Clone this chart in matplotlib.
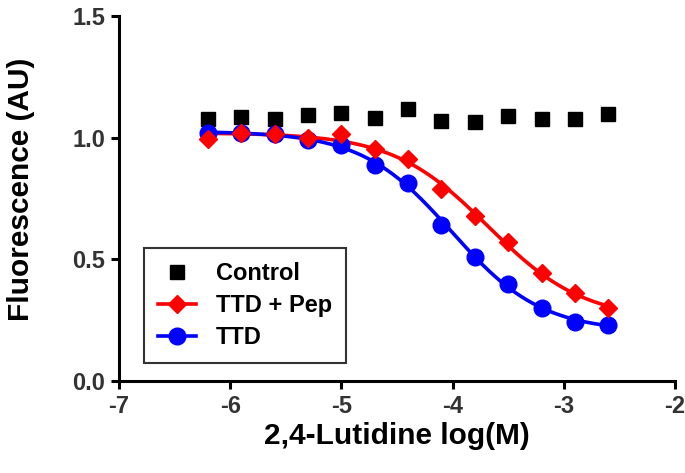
import numpy as np
import matplotlib
matplotlib.use("Agg")
import matplotlib.pyplot as plt
from matplotlib.lines import Line2D

plt.rcParams['font.family'] = ['Liberation Sans', 'DejaVu Sans']
plt.rcParams['font.weight'] = 'bold'

log_conc = [-6.2, -5.9, -5.6, -5.3, -5.0, -4.7, -4.4, -4.1, -3.8, -3.5, -3.2, -2.9, -2.6]
control = [1.076, 1.084, 1.076, 1.093, 1.103, 1.082, 1.119, 1.068, 1.066, 1.087, 1.078, 1.078, 1.097]
ttd_pep = [0.993, 1.018, 1.015, 0.997, 1.015, 0.952, 0.914, 0.788, 0.678, 0.570, 0.443, 0.363, 0.299]
ttd = [1.018, 1.018, 1.015, 0.990, 0.970, 0.888, 0.815, 0.641, 0.508, 0.399, 0.299, 0.244, 0.232]

x_ticks = [-7, -6, -5, -4, -3, -2]
y_ticks = [0.0, 0.5, 1.0, 1.5]
x_label = "2,4-Lutidine log(M)"
y_label = "Fluorescence (AU)"


def fit_4pl(x, y):
    """Least-squares 4-parameter logistic fit (grid over EC50/Hill, linear solve for top/bottom)."""
    x = np.asarray(x, float)
    y = np.asarray(y, float)
    best = None
    for ec in np.linspace(-5.5, -2.0, 351):
        for h in np.linspace(-2.5, -0.2, 231):
            s = 1.0 / (1.0 + 10 ** ((ec - x) * h))
            A = np.column_stack([np.ones_like(x), s])
            coef, *_ = np.linalg.lstsq(A, y, rcond=None)
            r = np.sum((A @ coef - y) ** 2)
            if best is None or r < best[0]:
                best = (r, ec, h, coef)
    _, ec, h, coef = best

    def f(xx):
        s = 1.0 / (1.0 + 10 ** ((ec - xx) * h))
        return coef[0] + coef[1] * s
    return f


fig = plt.figure(figsize=(6.85, 4.73), dpi=100)
ax = fig.add_axes([0.1737, 0.1945, 0.8117, 0.7717])

xs = np.linspace(min(log_conc), max(log_conc), 300)
f_pep = fit_4pl(log_conc, ttd_pep)
f_ttd = fit_4pl(log_conc, ttd)

ax.plot(log_conc, control, linestyle='none', marker='s', markersize=10.5,
        color='black', zorder=3)
ax.plot(xs, f_pep(xs), color='#ff0000', linewidth=2.6, zorder=2)
ax.plot(log_conc, ttd_pep, linestyle='none', marker='D', markersize=9.5,
        color='#ff0000', zorder=4)
ax.plot(xs, f_ttd(xs), color='#0000ff', linewidth=2.6, zorder=2)
ax.plot(log_conc, ttd, linestyle='none', marker='o', markersize=12,
        color='#0000ff', zorder=3)

handles = [
    Line2D([], [], linestyle='none', marker='s', markersize=10.5, color='black'),
    Line2D([], [], color='#ff0000', linewidth=2.6, marker='D', markersize=9.5),
    Line2D([], [], color='#0000ff', linewidth=2.6, marker='o', markersize=12),
]
leg = ax.legend(handles, ['Control', 'TTD + Pep', 'TTD'], loc='lower left',
                bbox_to_anchor=(0.045, 0.049), frameon=True, fancybox=False,
                prop={'size': 17, 'weight': 'bold'}, handlelength=1.6,
                borderpad=0.6, labelspacing=0.37, handletextpad=0.85,
                borderaxespad=0)
leg.get_frame().set_edgecolor('black')
leg.get_frame().set_linewidth(1.5)

ax.set_xlim(-7, -2)
ax.set_ylim(0, 1.5)
ax.set_xticks(x_ticks)
ax.set_yticks(y_ticks)
ax.set_xticklabels([str(t) for t in x_ticks])
ax.set_yticklabels([f"{t:.1f}" for t in y_ticks])

for s in ['top', 'right']:
    ax.spines[s].set_visible(False)
for s in ['left', 'bottom']:
    ax.spines[s].set_linewidth(2.2)
ax.tick_params(axis='both', direction='out', length=6, width=2.2,
               labelsize=17, labelcolor='#333333', pad=4)
for lab in ax.get_xticklabels() + ax.get_yticklabels():
    lab.set_fontweight('bold')

ax.set_xlabel(x_label, fontsize=21.5, fontweight='bold', labelpad=3)
ax.set_ylabel(y_label, fontsize=21.5, fontweight='bold', labelpad=27)
ax.yaxis.label.set_y(0.525)

fig.savefig('out.png', dpi=100)
